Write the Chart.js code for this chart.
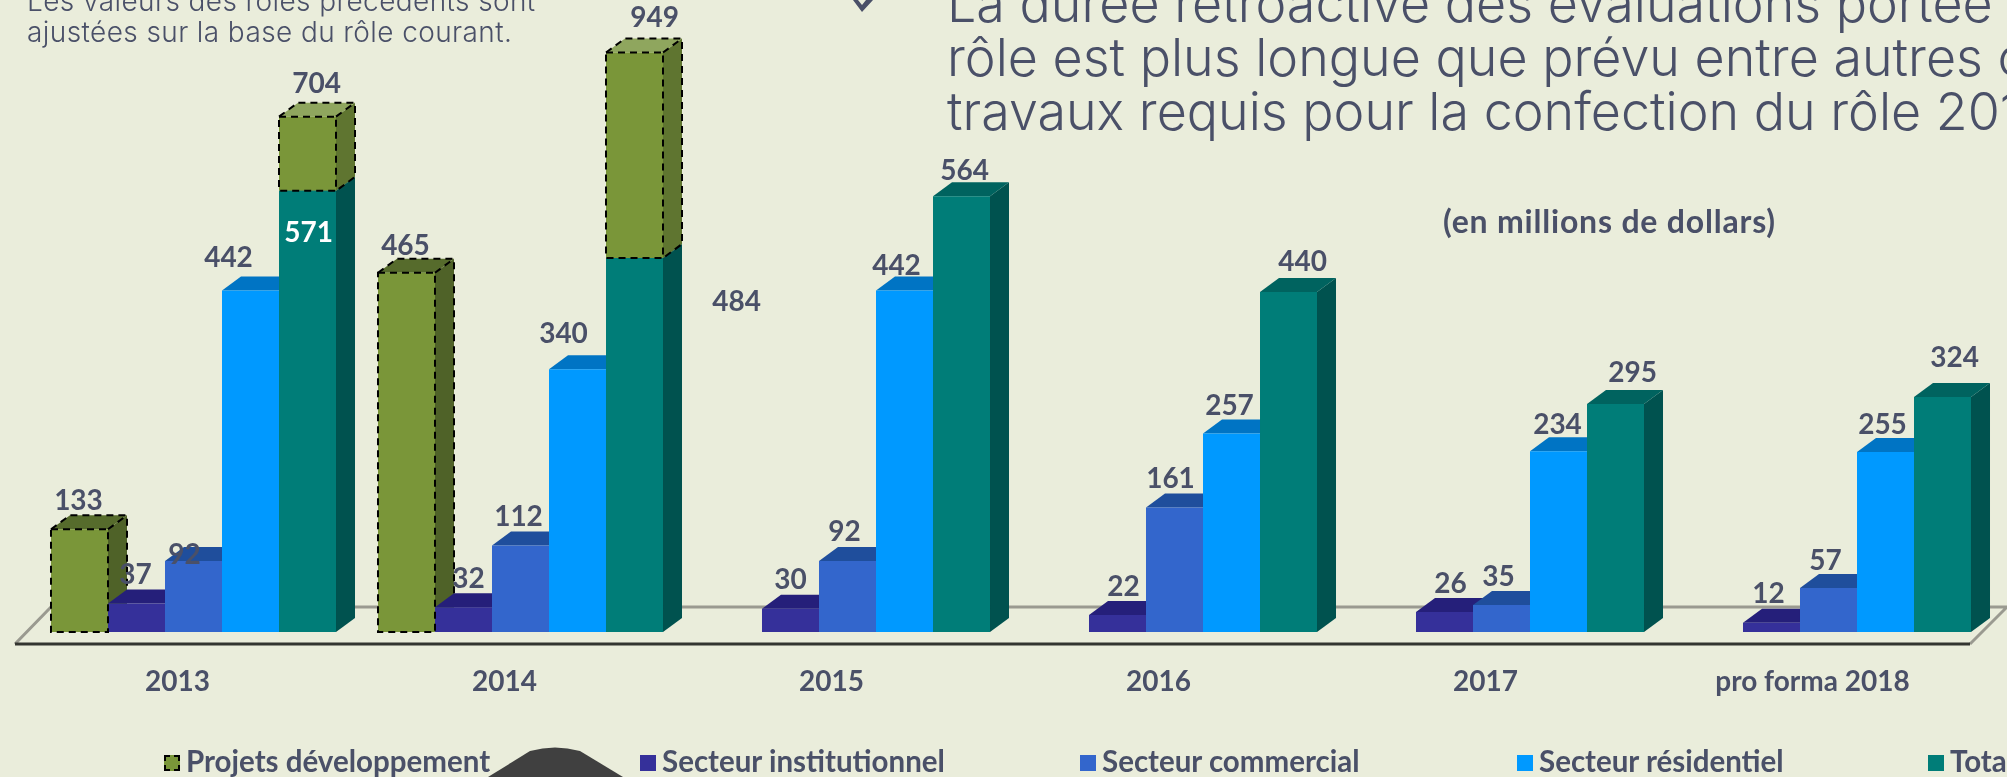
<!DOCTYPE html>
<html lang="fr">

<head>
    <meta charset="UTF-8">
    <title>Rôle</title>
    <script src="https://cdn.jsdelivr.net/npm/chart.js"></script>
    <style>
        html, body { margin: 0; padding: 0; width: 2007px; height: 777px; overflow: hidden; background: #eaeddb; }
        body { position: relative; color: #4a5068; font-family: "Lato", sans-serif; }
        canvas { position: absolute; left: 0; top: 0; }
        .txt { position: absolute; white-space: nowrap; }
        #note { left: 27px; top: -14px; font-size: 28px; letter-spacing: 0.4px; line-height: 31px; font-weight: 300; font-family: "Inter", sans-serif; }
        #titre { left: 947px; top: -23px; font-size: 52px; line-height: 54px; font-weight: 300; font-family: "Inter", sans-serif; }
        #unite { left: 1443px; top: 201px; font-size: 32px; letter-spacing: 0.8px; font-weight: 700; }
        #legende { position: absolute; left: 0; top: 745px; white-space: nowrap; font-size: 29.5px; font-weight: 700; line-height: 32px; }
        #legende span.item { position: absolute; top: 0; display: flex; align-items: center; gap: 6px; }
        #legende i { display: block; width: 16px; height: 16px; box-sizing: border-box; margin-top: 4px; }
        #legende i.dash { border: 2px dashed #000; }
        svg { position: absolute; left: 0; top: 0; }
    </style>
</head>

<body>
    <canvas id="roleChart" width="2007" height="777"></canvas>
    <svg width="2007" height="777">
        <path d="M488 777 L530 751 Q555 744 580 751 L623 777 Z" fill="#404040"></path>
        <path d="M853 0 L862 12 L873 0 L866 0 L862 5 L858 0 Z" fill="#4a5068"></path>
    </svg>
    <div class="txt" id="note">Les valeurs des rôles précédents sont<br>ajustées sur la base du rôle courant.</div>
    <div class="txt" id="titre">La durée rétroactive des évaluations portée<br>rôle est plus longue que prévu entre autres c<br>travaux requis pour la confection du rôle 201</div>
    <div class="txt" id="unite">(en millions de dollars)</div>
    <div id="legende"></div>

    <script>
        const annees = ["2013", "2014", "2015", "2016", "2017", "pro forma 2018"];

        // hauteurs
        const projets = [133, 465, null, null, null, null];
        const institutionnel = [37, 32, 30, 22, 26, 12];
        const commercial = [92, 112, 92, 161, 35, 57];
        const residentiel = [442, 340, 442, 257, 234, 233];
        const total = [571, 484, 564, 440, 295, 304];
        const projetsEmpiles = [96, 266, null, null, null, null];

        // etiquettes affichees (pas toujours egales a la hauteur dessinee)
        const etiqProjets = ["133", "465", "", "", "", ""];
        const etiqInstitutionnel = ["37", "32", "30", "22", "26", "12"];
        const etiqCommercial = ["92", "112", "92", "161", "35", "57"];
        const etiqResidentiel = ["442", "340", "442", "257", "234", "255"];
        const etiqTotal = ["571", "484", "564", "440", "295", "324"];
        const etiqEmpiles = ["704", "949", "", "", "", ""];

        const TEXTE = "#4a5068";
        const PROF = { x: 19, y: 14 };
        const LEGENDE_X = [164, 640, 1080, 1517, 1928];

        function serie(label, data, stack, front, top, side, etiquettes, decalages) {
            return {
                label, data, stack,
                backgroundColor: front,
                topColor: top,
                sideColor: side,
                etiquettes,
                decalages,
                categoryPercentage: 0.8716,
                barPercentage: 1,
                borderWidth: 0
            };
        }

        const datasets = [
            serie("Projets développement", projets, "a", "#7a9639", "#566b2c", "#4f6228", etiqProjets,
                [[-1, -30], [-1, -28]]),
            serie("Secteur institutionnel", institutionnel, "b", "#35309a", "#251f7a", "#251f7a", etiqInstitutionnel,
                [[-1, -30], [5, -30], [0, -30], [6, -30], [6, -29], [-3, -30]]),
            serie("Secteur commercial", commercial, "c", "#3366cc", "#1f4e9c", "#1f4e9c", etiqCommercial,
                [[-9, -7], [-2, -30], [-3, -30], [-4, -30], [-3, -29], [-3, -28]]),
            serie("Secteur résidentiel", residentiel, "d", "#0099ff", "#0074c4", "#0074c4", etiqResidentiel,
                [[-22, -34], [-14, -37], [-8, -26], [-2, -29], [-1, -28], [-3, -29]]),
            serie("Total", total, "e", "#007d78", "#00635f", "#00524f", etiqTotal,
                [[1, 41], [102, 42], [3, -27], [14, -32], [17, -33], [12, -41]]),
            serie("", projetsEmpiles, "e", "#7a9639", "#8fa65e", "#5f7530", etiqEmpiles,
                [[9, -34], [20, -36]])
        ];
        const POINTILLES = [0, 5];

        // basArriere : ou s'arrete l'arete arriere ; diagonale : arete basse du cote
        function contour(ctx, bar, basArriere, diagonale) {
            const g = bar.x - bar.width / 2, d = bar.x + bar.width / 2;
            ctx.strokeRect(g, bar.y, bar.width, bar.base - bar.y);
            ctx.beginPath();
            ctx.moveTo(g, bar.y);
            ctx.lineTo(g + PROF.x, bar.y - PROF.y);
            ctx.lineTo(d + PROF.x, bar.y - PROF.y);
            ctx.lineTo(d + PROF.x, basArriere);
            if (diagonale) ctx.lineTo(d, bar.base);
            ctx.moveTo(d, bar.y);
            ctx.lineTo(d + PROF.x, bar.y - PROF.y);
            ctx.stroke();
        }

        const relief = {
            id: "relief",
            beforeDatasetsDraw(chart) {
                const ctx = chart.ctx;
                const y0 = chart.scales.y.getPixelForValue(0);
                const aire = chart.chartArea;
                // plancher
                ctx.save();
                ctx.strokeStyle = "#9a9a90";
                ctx.lineWidth = 3;
                ctx.beginPath();
                ctx.moveTo(aire.left - 15, y0 + 12);
                ctx.lineTo(aire.left + 21, y0 - 25);
                ctx.lineTo(chart.width, y0 - 25);
                ctx.moveTo(aire.right - 22, y0 + 12);
                ctx.lineTo(aire.right + 15, y0 - 25);
                ctx.stroke();
                ctx.strokeStyle = "#333530";
                ctx.beginPath();
                ctx.moveTo(aire.left - 15, y0 + 12);
                ctx.lineTo(aire.right - 22, y0 + 12);
                ctx.stroke();
                // faces du dessus et de cote, de gauche a droite
                annees.forEach((_, i) => {
                    chart.data.datasets.forEach((ds, k) => {
                        if (ds.data[i] == null) return;
                        const bar = chart.getDatasetMeta(k).data[i];
                        const g = bar.x - bar.width / 2, d = bar.x + bar.width / 2;
                        ctx.fillStyle = ds.sideColor;
                        ctx.beginPath();
                        ctx.moveTo(d, bar.y);
                        ctx.lineTo(d + PROF.x, bar.y - PROF.y);
                        ctx.lineTo(d + PROF.x, bar.base - PROF.y);
                        ctx.lineTo(d, bar.base);
                        ctx.fill();
                        ctx.fillStyle = ds.topColor;
                        ctx.beginPath();
                        ctx.moveTo(g, bar.y);
                        ctx.lineTo(g + PROF.x, bar.y - PROF.y);
                        ctx.lineTo(d + PROF.x, bar.y - PROF.y);
                        ctx.lineTo(d, bar.y);
                        ctx.fill();
                    });
                });
                ctx.restore();
            },
            afterDatasetsDraw(chart) {
                const ctx = chart.ctx;
                ctx.save();
                ctx.strokeStyle = "#000";
                ctx.lineWidth = 2;
                ctx.setLineDash([7, 5]);
                POINTILLES.forEach(k => {
                    chart.getDatasetMeta(k).data.forEach((bar, i) => {
                        if (chart.data.datasets[k].data[i] == null) return;
                        if (k === 0) {
                            // l'arete arriere s'arrete sur le dessus de la barre voisine
                            const voisine = chart.getDatasetMeta(1).data[i];
                            contour(ctx, bar, voisine.y - PROF.y, false);
                        } else {
                            contour(ctx, bar, bar.base - PROF.y, true);
                        }
                    });
                });
                ctx.setLineDash([]);
                ctx.font = "700 28px Lato";
                ctx.textAlign = "center";
                ctx.textBaseline = "middle";
                chart.data.datasets.forEach((ds, k) => {
                    chart.getDatasetMeta(k).data.forEach((bar, i) => {
                        if (!ds.etiquettes[i]) return;
                        const dec = ds.decalages[i];
                        ctx.fillStyle = ds.etiquettes[i] === "571" ? "#ffffff" : TEXTE;
                        ctx.fillText(ds.etiquettes[i], bar.x + dec[0], bar.y + dec[1] + 1.5);
                    });
                });
                ctx.restore();
            }
        };

        document.addEventListener("DOMContentLoaded", () => {
            const ctx = document.getElementById("roleChart").getContext("2d");
            new Chart(ctx, {
                type: "bar",
                data: { labels: annees, datasets },
                plugins: [relief],
                options: {
                    responsive: false,
                    animation: false,
                    layout: { padding: { left: 30, right: 15, top: 0, bottom: 0 } },
                    plugins: { legend: { display: false }, tooltip: { enabled: false } },
                    scales: {
                        x: {
                            stacked: true,
                            grid: { display: false },
                            border: { display: false },
                            afterFit(scale) { scale.height = 145; },
                            ticks: {
                                color: TEXTE,
                                font: { family: "Lato", size: 28, weight: "700" },
                                padding: 25,
                                labelOffset: -16,
                                maxRotation: 0,
                                autoSkip: false
                            }
                        },
                        y: { stacked: true, display: false, min: 0, max: 818 }
                    }
                }
            });

            // legende html, construite depuis les series
            const legende = document.getElementById("legende");
            datasets.filter(ds => ds.label).forEach((ds, k) => {
                const item = document.createElement("span");
                item.className = "item";
                item.style.left = LEGENDE_X[k] + "px";
                const carre = document.createElement("i");
                carre.style.background = ds.backgroundColor;
                if (POINTILLES.includes(datasets.indexOf(ds))) carre.className = "dash";
                const nom = document.createElement("span");
                nom.textContent = ds.label;
                item.appendChild(carre);
                item.appendChild(nom);
                legende.appendChild(item);
            });
        });
    </script>
</body>

</html>
